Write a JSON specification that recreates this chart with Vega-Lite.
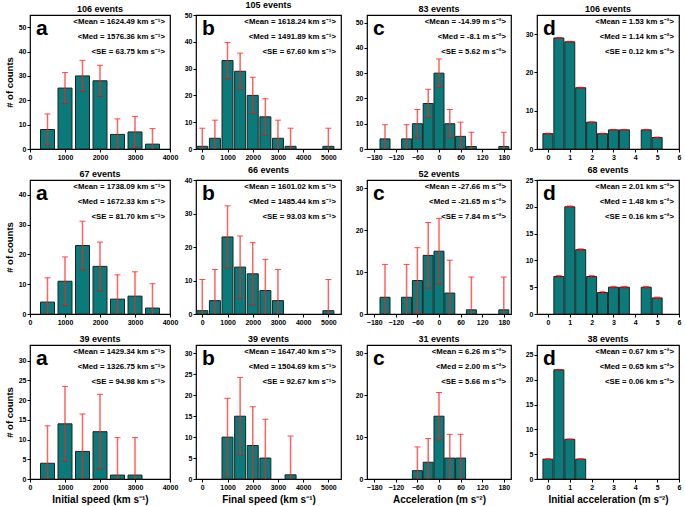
{
"$schema": "https://vega.github.io/schema/vega-lite/v6.json",
"padding": {"left": 3, "top": 0, "right": 0, "bottom": 0},
"config": {
 "font": "Liberation Sans",
 "view": {"stroke": "black", "strokeWidth": 1.2},
 "scale": {"continuousPadding": 0},
 "axis": {"labelFontSize": 7, "labelFontWeight": "bold", "labelColor": "black", "tickColor": "black", "tickSize": 3, "labelPadding": 1, "labelOverlap": false, "labelFlush": false, "labelBound": false, "domain": false, "grid": false, "titleFontSize": 10, "titleFontWeight": "bold", "titleColor": "black", "titlePadding": 4},
 "axisY": {"titleFontSize": 9.5},
 "title": {"fontSize": 9, "fontWeight": "bold", "offset": 1, "color": "black"},
 "bar": {"color": "#0a7a7a", "stroke": "#222222", "strokeWidth": 1},
 "text": {"color": "black", "fontWeight": "bold"}
},
"datasets": {
 "bars": [
  {"p":"1a","x":500,"n":8,"err":6.37},{"p":"1a","x":1000,"n":25,"err":6.37},{"p":"1a","x":1500,"n":30,"err":6.37},{"p":"1a","x":2000,"n":28,"err":6.37},{"p":"1a","x":2500,"n":6,"err":6.37},{"p":"1a","x":3000,"n":7,"err":6.37},{"p":"1a","x":3500,"n":2,"err":6.37},
  {"p":"1b","x":0,"n":1,"err":6.76},{"p":"1b","x":500,"n":4,"err":6.76},{"p":"1b","x":1000,"n":33,"err":6.76},{"p":"1b","x":1500,"n":29,"err":6.76},{"p":"1b","x":2000,"n":20,"err":6.76},{"p":"1b","x":2500,"n":12,"err":6.76},{"p":"1b","x":3000,"n":4,"err":6.76},{"p":"1b","x":3500,"n":1,"err":6.76},{"p":"1b","x":5000,"n":1,"err":6.76},
  {"p":"1c","x":-150,"n":4,"err":5.62},{"p":"1c","x":-90,"n":4,"err":5.62},{"p":"1c","x":-60,"n":10,"err":5.62},{"p":"1c","x":-30,"n":18,"err":5.62},{"p":"1c","x":0,"n":30,"err":5.62},{"p":"1c","x":30,"n":10,"err":5.62},{"p":"1c","x":60,"n":5,"err":5.62},{"p":"1c","x":90,"n":1,"err":5.62},{"p":"1c","x":180,"n":1,"err":5.62},
  {"p":"1d","x":0,"n":4,"err":0.12},{"p":"1d","x":0.5,"n":29,"err":0.12},{"p":"1d","x":1,"n":28,"err":0.12},{"p":"1d","x":1.5,"n":16,"err":0.12},{"p":"1d","x":2,"n":7,"err":0.12},{"p":"1d","x":2.5,"n":4,"err":0.12},{"p":"1d","x":3,"n":5,"err":0.12},{"p":"1d","x":3.5,"n":5,"err":0.12},{"p":"1d","x":4.5,"n":5,"err":0.12},{"p":"1d","x":5,"n":3,"err":0.12},
  {"p":"2a","x":500,"n":4,"err":8.17},{"p":"2a","x":1000,"n":11,"err":8.17},{"p":"2a","x":1500,"n":23,"err":8.17},{"p":"2a","x":2000,"n":16,"err":8.17},{"p":"2a","x":2500,"n":5,"err":8.17},{"p":"2a","x":3000,"n":6,"err":8.17},{"p":"2a","x":3500,"n":2,"err":8.17},
  {"p":"2b","x":0,"n":1,"err":9.3},{"p":"2b","x":500,"n":4,"err":9.3},{"p":"2b","x":1000,"n":23,"err":9.3},{"p":"2b","x":1500,"n":14,"err":9.3},{"p":"2b","x":2000,"n":12,"err":9.3},{"p":"2b","x":2500,"n":7,"err":9.3},{"p":"2b","x":3000,"n":4,"err":9.3},{"p":"2b","x":5000,"n":1,"err":9.3},
  {"p":"2c","x":-150,"n":4,"err":7.84},{"p":"2c","x":-90,"n":4,"err":7.84},{"p":"2c","x":-60,"n":8,"err":7.84},{"p":"2c","x":-30,"n":14,"err":7.84},{"p":"2c","x":0,"n":15,"err":7.84},{"p":"2c","x":30,"n":5,"err":7.84},{"p":"2c","x":90,"n":1,"err":7.84},{"p":"2c","x":180,"n":1,"err":7.84},
  {"p":"2d","x":0.5,"n":7,"err":0.16},{"p":"2d","x":1,"n":20,"err":0.16},{"p":"2d","x":1.5,"n":12,"err":0.16},{"p":"2d","x":2,"n":7,"err":0.16},{"p":"2d","x":2.5,"n":4,"err":0.16},{"p":"2d","x":3,"n":5,"err":0.16},{"p":"2d","x":3.5,"n":5,"err":0.16},{"p":"2d","x":4.5,"n":5,"err":0.16},{"p":"2d","x":5,"n":3,"err":0.16},
  {"p":"3a","x":500,"n":4,"err":9.5},{"p":"3a","x":1000,"n":14,"err":9.5},{"p":"3a","x":1500,"n":7,"err":9.5},{"p":"3a","x":2000,"n":12,"err":9.5},{"p":"3a","x":2500,"n":1,"err":9.5},{"p":"3a","x":3000,"n":1,"err":9.5},
  {"p":"3b","x":1000,"n":10,"err":9.27},{"p":"3b","x":1500,"n":15,"err":9.27},{"p":"3b","x":2000,"n":8,"err":9.27},{"p":"3b","x":2500,"n":5,"err":9.27},{"p":"3b","x":3500,"n":1,"err":9.27},
  {"p":"3c","x":-60,"n":2,"err":5.66},{"p":"3c","x":-30,"n":4,"err":5.66},{"p":"3c","x":0,"n":15,"err":5.66},{"p":"3c","x":30,"n":5,"err":5.66},{"p":"3c","x":60,"n":5,"err":5.66},
  {"p":"3d","x":0,"n":4,"err":0.06},{"p":"3d","x":0.5,"n":22,"err":0.06},{"p":"3d","x":1,"n":8,"err":0.06},{"p":"3d","x":1.5,"n":4,"err":0.06}
 ],
 "notes": [
  {"p":"1a","letter":"a","stats":"<Mean = 1624.49 km s⁻¹>\n<Med = 1576.36 km s⁻¹>\n<SE = 63.75 km s⁻¹>"},
  {"p":"1b","letter":"b","stats":"<Mean = 1618.24 km s⁻¹>\n<Med = 1491.89 km s⁻¹>\n<SE = 67.60 km s⁻¹>"},
  {"p":"1c","letter":"c","stats":"<Mean = -14.99 m s⁻²>\n<Med = -8.1 m s⁻²>\n<SE = 5.62 m s⁻²>"},
  {"p":"1d","letter":"d","stats":"<Mean = 1.53 km s⁻²>\n<Med = 1.14 km s⁻²>\n<SE = 0.12 km s⁻²>"},
  {"p":"2a","letter":"a","stats":"<Mean = 1738.09 km s⁻¹>\n<Med = 1672.33 km s⁻¹>\n<SE = 81.70 km s⁻¹>"},
  {"p":"2b","letter":"b","stats":"<Mean = 1601.02 km s⁻¹>\n<Med = 1485.44 km s⁻¹>\n<SE = 93.03 km s⁻¹>"},
  {"p":"2c","letter":"c","stats":"<Mean = -27.66 m s⁻²>\n<Med = -21.65 m s⁻²>\n<SE = 7.84 m s⁻²>"},
  {"p":"2d","letter":"d","stats":"<Mean = 2.01 km s⁻²>\n<Med = 1.48 km s⁻²>\n<SE = 0.16 km s⁻²>"},
  {"p":"3a","letter":"a","stats":"<Mean = 1429.34 km s⁻¹>\n<Med = 1326.75 km s⁻¹>\n<SE = 94.98 km s⁻¹>"},
  {"p":"3b","letter":"b","stats":"<Mean = 1647.40 km s⁻¹>\n<Med = 1504.69 km s⁻¹>\n<SE = 92.67 km s⁻¹>"},
  {"p":"3c","letter":"c","stats":"<Mean = 6.26 m s⁻²>\n<Med = 2.00 m s⁻²>\n<SE = 5.66 m s⁻²>"},
  {"p":"3d","letter":"d","stats":"<Mean = 0.67 km s⁻²>\n<Med = 0.65 km s⁻²>\n<SE = 0.06 km s⁻²>"}
 ]
},
"columns": 4,
"bounds": "flush",
"spacing": {"row": 31, "column": 26},
"concat": [
 {"width": 140, "height": 134, "title": "106 events", "layer": [
  {"data": {"name": "bars"}, "transform": [{"filter": "datum.p === '1a'"}], "mark": {"type": "bar", "width": 14},
   "encoding": {"x": {"field": "x", "type": "quantitative", "scale": {"domain": [0, 4000], "nice": false, "padding": 0}, "axis": {"values": [0,1000,2000,3000,4000], "tickCount": 50, "labelOverlap": false, "format": "d", "title": null}},
    "y": {"field": "n", "type": "quantitative", "scale": {"domain": [0, 55], "nice": false}, "axis": {"values": [0,10,20,30,40,50], "tickCount": 50, "labelOverlap": false, "format": "d", "title": "# of counts"}}}},
  {"data": {"name": "bars"}, "transform": [{"filter": "datum.p === '1a'"}], "mark": {"type": "errorbar", "clip": true, "ticks": {"color": "#ff0000", "size": 6, "strokeWidth": 1.5}, "rule": {"color": "#ff2020", "opacity": 0.7, "strokeWidth": 1.5}},
   "encoding": {"x": {"field": "x", "type": "quantitative"}, "y": {"field": "n", "type": "quantitative", "title": "# of counts"}, "yError": {"field": "err"}}},
  {"data": {"name": "notes"}, "transform": [{"filter": "datum.p === '1a'"}], "mark": {"type": "text", "align": "left", "baseline": "alphabetic", "dx": 6, "dy": 20, "fontSize": 21},
   "encoding": {"x": {"datum": 0}, "y": {"datum": 55}, "text": {"field": "letter"}}},
  {"data": {"name": "notes"}, "transform": [{"filter": "datum.p === '1a'"}], "mark": {"type": "text", "align": "right", "baseline": "top", "dx": -5, "dy": 3, "fontSize": 7.8, "lineBreak": "\n", "lineHeight": 15},
   "encoding": {"x": {"datum": 4000}, "y": {"datum": 55}, "text": {"field": "stats"}}}
 ]},
 {"width": 145, "height": 134, "title": "105 events", "layer": [
  {"data": {"name": "bars"}, "transform": [{"filter": "datum.p === '1b'"}], "mark": {"type": "bar", "width": 11},
   "encoding": {"x": {"field": "x", "type": "quantitative", "scale": {"domain": [-250, 5500], "nice": false, "padding": 0}, "axis": {"values": [0,1000,2000,3000,4000,5000], "tickCount": 50, "labelOverlap": false, "format": "d", "title": null}},
    "y": {"field": "n", "type": "quantitative", "scale": {"domain": [0, 50], "nice": false}, "axis": {"values": [0,10,20,30,40,50], "tickCount": 50, "labelOverlap": false, "format": "d", "title": null}}}},
  {"data": {"name": "bars"}, "transform": [{"filter": "datum.p === '1b'"}], "mark": {"type": "errorbar", "clip": true, "ticks": {"color": "#ff0000", "size": 6, "strokeWidth": 1.5}, "rule": {"color": "#ff2020", "opacity": 0.7, "strokeWidth": 1.5}},
   "encoding": {"x": {"field": "x", "type": "quantitative"}, "y": {"field": "n", "type": "quantitative", "title": null}, "yError": {"field": "err"}}},
  {"data": {"name": "notes"}, "transform": [{"filter": "datum.p === '1b'"}], "mark": {"type": "text", "align": "left", "baseline": "alphabetic", "dx": 6, "dy": 20, "fontSize": 21},
   "encoding": {"x": {"datum": -250}, "y": {"datum": 50}, "text": {"field": "letter"}}},
  {"data": {"name": "notes"}, "transform": [{"filter": "datum.p === '1b'"}], "mark": {"type": "text", "align": "right", "baseline": "top", "dx": -5, "dy": 3, "fontSize": 7.8, "lineBreak": "\n", "lineHeight": 15},
   "encoding": {"x": {"datum": 5500}, "y": {"datum": 50}, "text": {"field": "stats"}}}
 ]},
 {"width": 144, "height": 134, "title": "83 events", "layer": [
  {"data": {"name": "bars"}, "transform": [{"filter": "datum.p === '1c'"}], "mark": {"type": "bar", "width": 10},
   "encoding": {"x": {"field": "x", "type": "quantitative", "scale": {"domain": [-200, 200], "nice": false, "padding": 0}, "axis": {"values": [-180,-120,-60,0,60,120,180], "tickCount": 50, "labelOverlap": false, "format": "d", "title": null}},
    "y": {"field": "n", "type": "quantitative", "scale": {"domain": [0, 53], "nice": false}, "axis": {"values": [0,10,20,30,40,50], "tickCount": 50, "labelOverlap": false, "format": "d", "title": null}}}},
  {"data": {"name": "bars"}, "transform": [{"filter": "datum.p === '1c'"}], "mark": {"type": "errorbar", "clip": true, "ticks": {"color": "#ff0000", "size": 6, "strokeWidth": 1.5}, "rule": {"color": "#ff2020", "opacity": 0.7, "strokeWidth": 1.5}},
   "encoding": {"x": {"field": "x", "type": "quantitative"}, "y": {"field": "n", "type": "quantitative", "title": null}, "yError": {"field": "err"}}},
  {"data": {"name": "notes"}, "transform": [{"filter": "datum.p === '1c'"}], "mark": {"type": "text", "align": "left", "baseline": "alphabetic", "dx": 6, "dy": 20, "fontSize": 21},
   "encoding": {"x": {"datum": -200}, "y": {"datum": 53}, "text": {"field": "letter"}}},
  {"data": {"name": "notes"}, "transform": [{"filter": "datum.p === '1c'"}], "mark": {"type": "text", "align": "right", "baseline": "top", "dx": -5, "dy": 3, "fontSize": 7.8, "lineBreak": "\n", "lineHeight": 15},
   "encoding": {"x": {"datum": 200}, "y": {"datum": 53}, "text": {"field": "stats"}}}
 ]},
 {"width": 142, "height": 134, "title": "106 events", "layer": [
  {"data": {"name": "bars"}, "transform": [{"filter": "datum.p === '1d'"}], "mark": {"type": "bar", "width": 10},
   "encoding": {"x": {"field": "x", "type": "quantitative", "scale": {"domain": [-0.5, 6], "nice": false, "padding": 0}, "axis": {"values": [0,1,2,3,4,5,6], "tickCount": 50, "labelOverlap": false, "format": "d", "title": null}},
    "y": {"field": "n", "type": "quantitative", "scale": {"domain": [0, 35], "nice": false}, "axis": {"values": [0,10,20,30], "tickCount": 50, "labelOverlap": false, "format": "d", "title": null}}}},
  {"data": {"name": "bars"}, "transform": [{"filter": "datum.p === '1d'"}], "mark": {"type": "errorbar", "clip": true, "ticks": {"color": "#ff0000", "size": 6, "strokeWidth": 1.5}, "rule": {"color": "#ff2020", "opacity": 0.7, "strokeWidth": 1.5}},
   "encoding": {"x": {"field": "x", "type": "quantitative"}, "y": {"field": "n", "type": "quantitative", "title": null}, "yError": {"field": "err"}}},
  {"data": {"name": "notes"}, "transform": [{"filter": "datum.p === '1d'"}], "mark": {"type": "text", "align": "left", "baseline": "alphabetic", "dx": 6, "dy": 20, "fontSize": 21},
   "encoding": {"x": {"datum": -0.5}, "y": {"datum": 35}, "text": {"field": "letter"}}},
  {"data": {"name": "notes"}, "transform": [{"filter": "datum.p === '1d'"}], "mark": {"type": "text", "align": "right", "baseline": "top", "dx": -5, "dy": 3, "fontSize": 7.8, "lineBreak": "\n", "lineHeight": 15},
   "encoding": {"x": {"datum": 6}, "y": {"datum": 35}, "text": {"field": "stats"}}}
 ]},
 {"width": 140, "height": 134, "title": "67 events", "layer": [
  {"data": {"name": "bars"}, "transform": [{"filter": "datum.p === '2a'"}], "mark": {"type": "bar", "width": 14},
   "encoding": {"x": {"field": "x", "type": "quantitative", "scale": {"domain": [0, 4000], "nice": false, "padding": 0}, "axis": {"values": [0,1000,2000,3000,4000], "tickCount": 50, "labelOverlap": false, "format": "d", "title": null}},
    "y": {"field": "n", "type": "quantitative", "scale": {"domain": [0, 45], "nice": false}, "axis": {"values": [0,10,20,30,40], "tickCount": 50, "labelOverlap": false, "format": "d", "title": "# of counts"}}}},
  {"data": {"name": "bars"}, "transform": [{"filter": "datum.p === '2a'"}], "mark": {"type": "errorbar", "clip": true, "ticks": {"color": "#ff0000", "size": 6, "strokeWidth": 1.5}, "rule": {"color": "#ff2020", "opacity": 0.7, "strokeWidth": 1.5}},
   "encoding": {"x": {"field": "x", "type": "quantitative"}, "y": {"field": "n", "type": "quantitative", "title": "# of counts"}, "yError": {"field": "err"}}},
  {"data": {"name": "notes"}, "transform": [{"filter": "datum.p === '2a'"}], "mark": {"type": "text", "align": "left", "baseline": "alphabetic", "dx": 6, "dy": 20, "fontSize": 21},
   "encoding": {"x": {"datum": 0}, "y": {"datum": 45}, "text": {"field": "letter"}}},
  {"data": {"name": "notes"}, "transform": [{"filter": "datum.p === '2a'"}], "mark": {"type": "text", "align": "right", "baseline": "top", "dx": -5, "dy": 3, "fontSize": 7.8, "lineBreak": "\n", "lineHeight": 15},
   "encoding": {"x": {"datum": 4000}, "y": {"datum": 45}, "text": {"field": "stats"}}}
 ]},
 {"width": 145, "height": 134, "title": "66 events", "layer": [
  {"data": {"name": "bars"}, "transform": [{"filter": "datum.p === '2b'"}], "mark": {"type": "bar", "width": 11},
   "encoding": {"x": {"field": "x", "type": "quantitative", "scale": {"domain": [-250, 5500], "nice": false, "padding": 0}, "axis": {"values": [0,1000,2000,3000,4000,5000], "tickCount": 50, "labelOverlap": false, "format": "d", "title": null}},
    "y": {"field": "n", "type": "quantitative", "scale": {"domain": [0, 40], "nice": false}, "axis": {"values": [0,10,20,30,40], "tickCount": 50, "labelOverlap": false, "format": "d", "title": null}}}},
  {"data": {"name": "bars"}, "transform": [{"filter": "datum.p === '2b'"}], "mark": {"type": "errorbar", "clip": true, "ticks": {"color": "#ff0000", "size": 6, "strokeWidth": 1.5}, "rule": {"color": "#ff2020", "opacity": 0.7, "strokeWidth": 1.5}},
   "encoding": {"x": {"field": "x", "type": "quantitative"}, "y": {"field": "n", "type": "quantitative", "title": null}, "yError": {"field": "err"}}},
  {"data": {"name": "notes"}, "transform": [{"filter": "datum.p === '2b'"}], "mark": {"type": "text", "align": "left", "baseline": "alphabetic", "dx": 6, "dy": 20, "fontSize": 21},
   "encoding": {"x": {"datum": -250}, "y": {"datum": 40}, "text": {"field": "letter"}}},
  {"data": {"name": "notes"}, "transform": [{"filter": "datum.p === '2b'"}], "mark": {"type": "text", "align": "right", "baseline": "top", "dx": -5, "dy": 3, "fontSize": 7.8, "lineBreak": "\n", "lineHeight": 15},
   "encoding": {"x": {"datum": 5500}, "y": {"datum": 40}, "text": {"field": "stats"}}}
 ]},
 {"width": 144, "height": 134, "title": "52 events", "layer": [
  {"data": {"name": "bars"}, "transform": [{"filter": "datum.p === '2c'"}], "mark": {"type": "bar", "width": 10},
   "encoding": {"x": {"field": "x", "type": "quantitative", "scale": {"domain": [-200, 200], "nice": false, "padding": 0}, "axis": {"values": [-180,-120,-60,0,60,120,180], "tickCount": 50, "labelOverlap": false, "format": "d", "title": null}},
    "y": {"field": "n", "type": "quantitative", "scale": {"domain": [0, 32], "nice": false}, "axis": {"values": [0,10,20,30], "tickCount": 50, "labelOverlap": false, "format": "d", "title": null}}}},
  {"data": {"name": "bars"}, "transform": [{"filter": "datum.p === '2c'"}], "mark": {"type": "errorbar", "clip": true, "ticks": {"color": "#ff0000", "size": 6, "strokeWidth": 1.5}, "rule": {"color": "#ff2020", "opacity": 0.7, "strokeWidth": 1.5}},
   "encoding": {"x": {"field": "x", "type": "quantitative"}, "y": {"field": "n", "type": "quantitative", "title": null}, "yError": {"field": "err"}}},
  {"data": {"name": "notes"}, "transform": [{"filter": "datum.p === '2c'"}], "mark": {"type": "text", "align": "left", "baseline": "alphabetic", "dx": 6, "dy": 20, "fontSize": 21},
   "encoding": {"x": {"datum": -200}, "y": {"datum": 32}, "text": {"field": "letter"}}},
  {"data": {"name": "notes"}, "transform": [{"filter": "datum.p === '2c'"}], "mark": {"type": "text", "align": "right", "baseline": "top", "dx": -5, "dy": 3, "fontSize": 7.8, "lineBreak": "\n", "lineHeight": 15},
   "encoding": {"x": {"datum": 200}, "y": {"datum": 32}, "text": {"field": "stats"}}}
 ]},
 {"width": 142, "height": 134, "title": "68 events", "layer": [
  {"data": {"name": "bars"}, "transform": [{"filter": "datum.p === '2d'"}], "mark": {"type": "bar", "width": 10},
   "encoding": {"x": {"field": "x", "type": "quantitative", "scale": {"domain": [-0.5, 6], "nice": false, "padding": 0}, "axis": {"values": [0,1,2,3,4,5,6], "tickCount": 50, "labelOverlap": false, "format": "d", "title": null}},
    "y": {"field": "n", "type": "quantitative", "scale": {"domain": [0, 25], "nice": false}, "axis": {"values": [0,5,10,15,20,25], "tickCount": 50, "labelOverlap": false, "format": "d", "title": null}}}},
  {"data": {"name": "bars"}, "transform": [{"filter": "datum.p === '2d'"}], "mark": {"type": "errorbar", "clip": true, "ticks": {"color": "#ff0000", "size": 6, "strokeWidth": 1.5}, "rule": {"color": "#ff2020", "opacity": 0.7, "strokeWidth": 1.5}},
   "encoding": {"x": {"field": "x", "type": "quantitative"}, "y": {"field": "n", "type": "quantitative", "title": null}, "yError": {"field": "err"}}},
  {"data": {"name": "notes"}, "transform": [{"filter": "datum.p === '2d'"}], "mark": {"type": "text", "align": "left", "baseline": "alphabetic", "dx": 6, "dy": 20, "fontSize": 21},
   "encoding": {"x": {"datum": -0.5}, "y": {"datum": 25}, "text": {"field": "letter"}}},
  {"data": {"name": "notes"}, "transform": [{"filter": "datum.p === '2d'"}], "mark": {"type": "text", "align": "right", "baseline": "top", "dx": -5, "dy": 3, "fontSize": 7.8, "lineBreak": "\n", "lineHeight": 15},
   "encoding": {"x": {"datum": 6}, "y": {"datum": 25}, "text": {"field": "stats"}}}
 ]},
 {"width": 140, "height": 134, "title": "39 events", "layer": [
  {"data": {"name": "bars"}, "transform": [{"filter": "datum.p === '3a'"}], "mark": {"type": "bar", "width": 14},
   "encoding": {"x": {"field": "x", "type": "quantitative", "scale": {"domain": [0, 4000], "nice": false, "padding": 0}, "axis": {"values": [0,1000,2000,3000,4000], "tickCount": 50, "labelOverlap": false, "format": "d", "title": "Initial speed (km s⁻¹)"}},
    "y": {"field": "n", "type": "quantitative", "scale": {"domain": [0, 34], "nice": false}, "axis": {"values": [0,5,10,15,20,25,30], "tickCount": 50, "labelOverlap": false, "format": "d", "title": "# of counts"}}}},
  {"data": {"name": "bars"}, "transform": [{"filter": "datum.p === '3a'"}], "mark": {"type": "errorbar", "clip": true, "ticks": {"color": "#ff0000", "size": 6, "strokeWidth": 1.5}, "rule": {"color": "#ff2020", "opacity": 0.7, "strokeWidth": 1.5}},
   "encoding": {"x": {"field": "x", "type": "quantitative", "title": "Initial speed (km s⁻¹)"}, "y": {"field": "n", "type": "quantitative", "title": "# of counts"}, "yError": {"field": "err"}}},
  {"data": {"name": "notes"}, "transform": [{"filter": "datum.p === '3a'"}], "mark": {"type": "text", "align": "left", "baseline": "alphabetic", "dx": 6, "dy": 20, "fontSize": 21},
   "encoding": {"x": {"datum": 0}, "y": {"datum": 34}, "text": {"field": "letter"}}},
  {"data": {"name": "notes"}, "transform": [{"filter": "datum.p === '3a'"}], "mark": {"type": "text", "align": "right", "baseline": "top", "dx": -5, "dy": 3, "fontSize": 7.8, "lineBreak": "\n", "lineHeight": 15},
   "encoding": {"x": {"datum": 4000}, "y": {"datum": 34}, "text": {"field": "stats"}}}
 ]},
 {"width": 145, "height": 134, "title": "39 events", "layer": [
  {"data": {"name": "bars"}, "transform": [{"filter": "datum.p === '3b'"}], "mark": {"type": "bar", "width": 11},
   "encoding": {"x": {"field": "x", "type": "quantitative", "scale": {"domain": [-250, 5500], "nice": false, "padding": 0}, "axis": {"values": [0,1000,2000,3000,4000,5000], "tickCount": 50, "labelOverlap": false, "format": "d", "title": "Final speed (km s⁻¹)"}},
    "y": {"field": "n", "type": "quantitative", "scale": {"domain": [0, 32], "nice": false}, "axis": {"values": [0,5,10,15,20,25,30], "tickCount": 50, "labelOverlap": false, "format": "d", "title": null}}}},
  {"data": {"name": "bars"}, "transform": [{"filter": "datum.p === '3b'"}], "mark": {"type": "errorbar", "clip": true, "ticks": {"color": "#ff0000", "size": 6, "strokeWidth": 1.5}, "rule": {"color": "#ff2020", "opacity": 0.7, "strokeWidth": 1.5}},
   "encoding": {"x": {"field": "x", "type": "quantitative", "title": "Final speed (km s⁻¹)"}, "y": {"field": "n", "type": "quantitative", "title": null}, "yError": {"field": "err"}}},
  {"data": {"name": "notes"}, "transform": [{"filter": "datum.p === '3b'"}], "mark": {"type": "text", "align": "left", "baseline": "alphabetic", "dx": 6, "dy": 20, "fontSize": 21},
   "encoding": {"x": {"datum": -250}, "y": {"datum": 32}, "text": {"field": "letter"}}},
  {"data": {"name": "notes"}, "transform": [{"filter": "datum.p === '3b'"}], "mark": {"type": "text", "align": "right", "baseline": "top", "dx": -5, "dy": 3, "fontSize": 7.8, "lineBreak": "\n", "lineHeight": 15},
   "encoding": {"x": {"datum": 5500}, "y": {"datum": 32}, "text": {"field": "stats"}}}
 ]},
 {"width": 144, "height": 134, "title": "31 events", "layer": [
  {"data": {"name": "bars"}, "transform": [{"filter": "datum.p === '3c'"}], "mark": {"type": "bar", "width": 10},
   "encoding": {"x": {"field": "x", "type": "quantitative", "scale": {"domain": [-200, 200], "nice": false, "padding": 0}, "axis": {"values": [-180,-120,-60,0,60,120,180], "tickCount": 50, "labelOverlap": false, "format": "d", "title": "Acceleration (m s⁻²)"}},
    "y": {"field": "n", "type": "quantitative", "scale": {"domain": [0, 32], "nice": false}, "axis": {"values": [0,10,20,30], "tickCount": 50, "labelOverlap": false, "format": "d", "title": null}}}},
  {"data": {"name": "bars"}, "transform": [{"filter": "datum.p === '3c'"}], "mark": {"type": "errorbar", "clip": true, "ticks": {"color": "#ff0000", "size": 6, "strokeWidth": 1.5}, "rule": {"color": "#ff2020", "opacity": 0.7, "strokeWidth": 1.5}},
   "encoding": {"x": {"field": "x", "type": "quantitative", "title": "Acceleration (m s⁻²)"}, "y": {"field": "n", "type": "quantitative", "title": null}, "yError": {"field": "err"}}},
  {"data": {"name": "notes"}, "transform": [{"filter": "datum.p === '3c'"}], "mark": {"type": "text", "align": "left", "baseline": "alphabetic", "dx": 6, "dy": 20, "fontSize": 21},
   "encoding": {"x": {"datum": -200}, "y": {"datum": 32}, "text": {"field": "letter"}}},
  {"data": {"name": "notes"}, "transform": [{"filter": "datum.p === '3c'"}], "mark": {"type": "text", "align": "right", "baseline": "top", "dx": -5, "dy": 3, "fontSize": 7.8, "lineBreak": "\n", "lineHeight": 15},
   "encoding": {"x": {"datum": 200}, "y": {"datum": 32}, "text": {"field": "stats"}}}
 ]},
 {"width": 142, "height": 134, "title": "38 events", "layer": [
  {"data": {"name": "bars"}, "transform": [{"filter": "datum.p === '3d'"}], "mark": {"type": "bar", "width": 10},
   "encoding": {"x": {"field": "x", "type": "quantitative", "scale": {"domain": [-0.5, 6], "nice": false, "padding": 0}, "axis": {"values": [0,1,2,3,4,5,6], "tickCount": 50, "labelOverlap": false, "format": "d", "title": "Initial acceleration (m s⁻²)"}},
    "y": {"field": "n", "type": "quantitative", "scale": {"domain": [0, 27], "nice": false}, "axis": {"values": [0,5,10,15,20,25], "tickCount": 50, "labelOverlap": false, "format": "d", "title": null}}}},
  {"data": {"name": "bars"}, "transform": [{"filter": "datum.p === '3d'"}], "mark": {"type": "errorbar", "clip": true, "ticks": {"color": "#ff0000", "size": 6, "strokeWidth": 1.5}, "rule": {"color": "#ff2020", "opacity": 0.7, "strokeWidth": 1.5}},
   "encoding": {"x": {"field": "x", "type": "quantitative", "title": "Initial acceleration (m s⁻²)"}, "y": {"field": "n", "type": "quantitative", "title": null}, "yError": {"field": "err"}}},
  {"data": {"name": "notes"}, "transform": [{"filter": "datum.p === '3d'"}], "mark": {"type": "text", "align": "left", "baseline": "alphabetic", "dx": 6, "dy": 20, "fontSize": 21},
   "encoding": {"x": {"datum": -0.5}, "y": {"datum": 27}, "text": {"field": "letter"}}},
  {"data": {"name": "notes"}, "transform": [{"filter": "datum.p === '3d'"}], "mark": {"type": "text", "align": "right", "baseline": "top", "dx": -5, "dy": 3, "fontSize": 7.8, "lineBreak": "\n", "lineHeight": 15},
   "encoding": {"x": {"datum": 6}, "y": {"datum": 27}, "text": {"field": "stats"}}}
 ]}
]
}
